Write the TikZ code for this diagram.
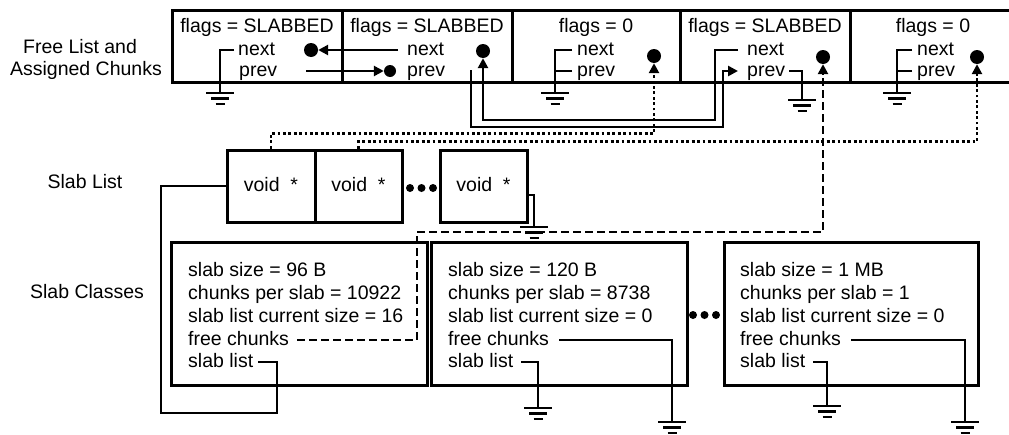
\documentclass[tikz,border=0pt]{standalone}
\usepackage{fontspec}
\setmainfont{Liberation Sans}
\usetikzlibrary{arrows.meta}
\begin{document}
\begin{tikzpicture}[x=1pt,y=-1pt,
  every node/.style={font=\fontsize{19.5pt}{23pt}\selectfont},
  box/.style={draw,line width=3pt,inner sep=0pt,text height=14pt,text depth=4pt},
  txt/.style={inner sep=0pt,anchor=west,text height=14pt,text depth=4pt},
  ctxt/.style={inner sep=0pt,text height=14pt,text depth=4pt},
  wire/.style={line width=2.8pt},
  ptr/.style={wire,-{Triangle[length=10pt,width=10pt]}},
  dotwire/.style={wire,dash pattern=on 2.8pt off 2.6pt},
  dashwire/.style={wire,dash pattern=on 8pt off 4pt},
  pdot/.style={circle,fill,inner sep=0pt,minimum size=14pt},
  edot/.style={circle,fill,inner sep=0pt,minimum size=8pt},
  gnd/.pic={\draw[line width=2.6pt] (-14,0)--(14,0) (-9,5.5)--(9,5.5) (-4.5,11)--(4.5,11);}
]
\useasboundingbox (0,0) rectangle (1009,434);

% left labels
\node[ctxt] (labA) at (80,48) {Free List and};
\node[ctxt] (labB) at (86,70) {Assigned Chunks};
\node[ctxt] (labC) at (85,183) {Slab List};
\node[ctxt] (labD) at (87,293) {Slab Classes};

% top row of chunks
\node[box,minimum width=170pt,minimum height=72pt] (b1) at (257,46) {};
\node[box,minimum width=170pt,minimum height=72pt] (b2) at (427,46) {};
\node[box,minimum width=168pt,minimum height=72pt] (b3) at (596,46) {};
\node[box,minimum width=170pt,minimum height=72pt] (b4) at (765,46) {};
\node[box,minimum width=170pt,minimum height=72pt] (b5) at (935,46) {};

\node[ctxt] (f1) at (257,27) {flags = SLABBED};
\node[ctxt] (f2) at (427,27) {flags = SLABBED};
\node[ctxt] (f3) at (596,27) {flags = 0};
\node[ctxt] (f4) at (765,27) {flags = SLABBED};
\node[ctxt] (f5) at (933,27) {flags = 0};

\node[txt] (n1) at (238,50) {next};
\node[txt] (p1) at (239,71) {prev};
\node[txt] (n2) at (407,50) {next};
\node[txt] (p2) at (407,71) {prev};
\node[txt] (n3) at (577,50) {next};
\node[txt] (p3) at (577,71) {prev};
\node[txt] (n4) at (747,50) {next};
\node[txt] (p4) at (747,71) {prev};
\node[txt] (n5) at (917,50) {next};
\node[txt] (p5) at (917,71) {prev};

\node[pdot] (d1) at (311,50) {};
\node[pdot,minimum size=12pt] (dp2) at (390,71) {};
\node[pdot] (d2) at (483,51) {};
\node[pdot] (d3) at (654,56) {};
\node[pdot] (d4) at (823,57) {};
\node[pdot] (d5) at (977,57) {};

\coordinate (p1s) at (306,71);
\coordinate (p2s) at (471,70);

% pointers between chunks
\draw[ptr] ([xshift=-9pt]n2.west) -- (d1);
\draw[ptr] (p1s) -- (dp2);
\draw[ptr] (p2s) -- (471,127) -| (723,71) -- ([xshift=-9pt]p4.west);
\draw[ptr] ([xshift=-9pt]n4.west) -- (715,50) |- (483,120) -- (d2);

% grounds of the top row
\draw[wire] ([xshift=-4pt]n1.west) -| (220,93);
\pic at (220,93) {gnd};
\draw[wire] ([xshift=-5pt]n3.west) -| (555,93);
\draw[wire] ([xshift=-5pt]p3.west) -- (555,71);
\pic at (555,93) {gnd};
\draw[wire] ([xshift=4pt]p4.east) -| (802,100);
\pic at (802,100) {gnd};
\draw[wire] ([xshift=-5pt]n5.west) -| (897,93);
\draw[wire] ([xshift=-5pt]p5.west) -- (897,71);
\pic at (897,93) {gnd};

% slab list
\node[box,minimum width=88pt,minimum height=72pt] (v1) at (271,186) {void\ \ *};
\node[box,minimum width=87pt,minimum height=72pt] (v2) at (358.5,186) {void\ \ *};
\node[box,minimum width=87pt,minimum height=72pt] (v3) at (483.5,186) {void\ \ *};
\node[edot] (e1) at (410,188) {};
\node[edot] (e2) at (421.5,188) {};
\node[edot] (e3) at (433,188) {};

\draw[dotwire,-{Triangle[length=10pt,width=10pt]}] (v1.north) -- ++(0,-15) -| (d3);
\draw[dotwire,-{Triangle[length=10pt,width=10pt]}] (v2.north) -- ++(0,-7) -| (d5);

\draw[wire] ([yshift=-9pt]v3.east) -| (534,227);
\pic at (534,227) {gnd};

% slab classes
\node[box,minimum width=256pt,minimum height=143pt] (cA) at (299,313.5) {};
\node[box,minimum width=256pt,minimum height=143pt] (cB) at (559,313.5) {};
\node[box,minimum width=254pt,minimum height=143pt] (cC) at (851,313.5) {};

\node[txt] (sA1) at (188,271) {slab size = 96 B};
\node[txt] (sA2) at (188,294) {chunks per slab = 10922};
\node[txt] (sA3) at (188,317) {slab list current size = 16};
\node[txt] (sA4) at (188,340) {free chunks};
\node[txt] (sA5) at (188,362) {slab list};

\node[txt] (sB1) at (448,271) {slab size = 120 B};
\node[txt] (sB2) at (448,294) {chunks per slab = 8738};
\node[txt] (sB3) at (448,317) {slab list current size = 0};
\node[txt] (sB4) at (448,340) {free chunks};
\node[txt] (sB5) at (448,362) {slab list};

\node[txt] (sC1) at (740,271) {slab size = 1 MB};
\node[txt] (sC2) at (740,294) {chunks per slab = 1};
\node[txt] (sC3) at (740,317) {slab list current size = 0};
\node[txt] (sC4) at (740,340) {free chunks};
\node[txt] (sC5) at (740,362) {slab list};

\node[edot] (e4) at (693,315) {};
\node[edot] (e5) at (704.5,315) {};
\node[edot] (e6) at (716,315) {};

\draw[dashwire,-{Triangle[length=10pt,width=10pt]}] ([xshift=8pt]sA4.east) -| (417,232) -| (d4);
\draw[wire] ([xshift=5pt]sA5.east) -| (277,413) -- (161,413) |- (v1.west);

\draw[wire] ([xshift=8pt]sB5.east) -| (538,408);
\pic at (538,408) {gnd};
\draw[wire] ([xshift=10pt]sB4.east) -| (672,422);
\pic at (672,422) {gnd};
\draw[wire] ([xshift=8pt]sC5.east) -| (827,406);
\pic at (827,406) {gnd};
\draw[wire] ([xshift=10pt]sC4.east) -| (965,422);
\pic at (965,422) {gnd};
\end{tikzpicture}
\end{document}
